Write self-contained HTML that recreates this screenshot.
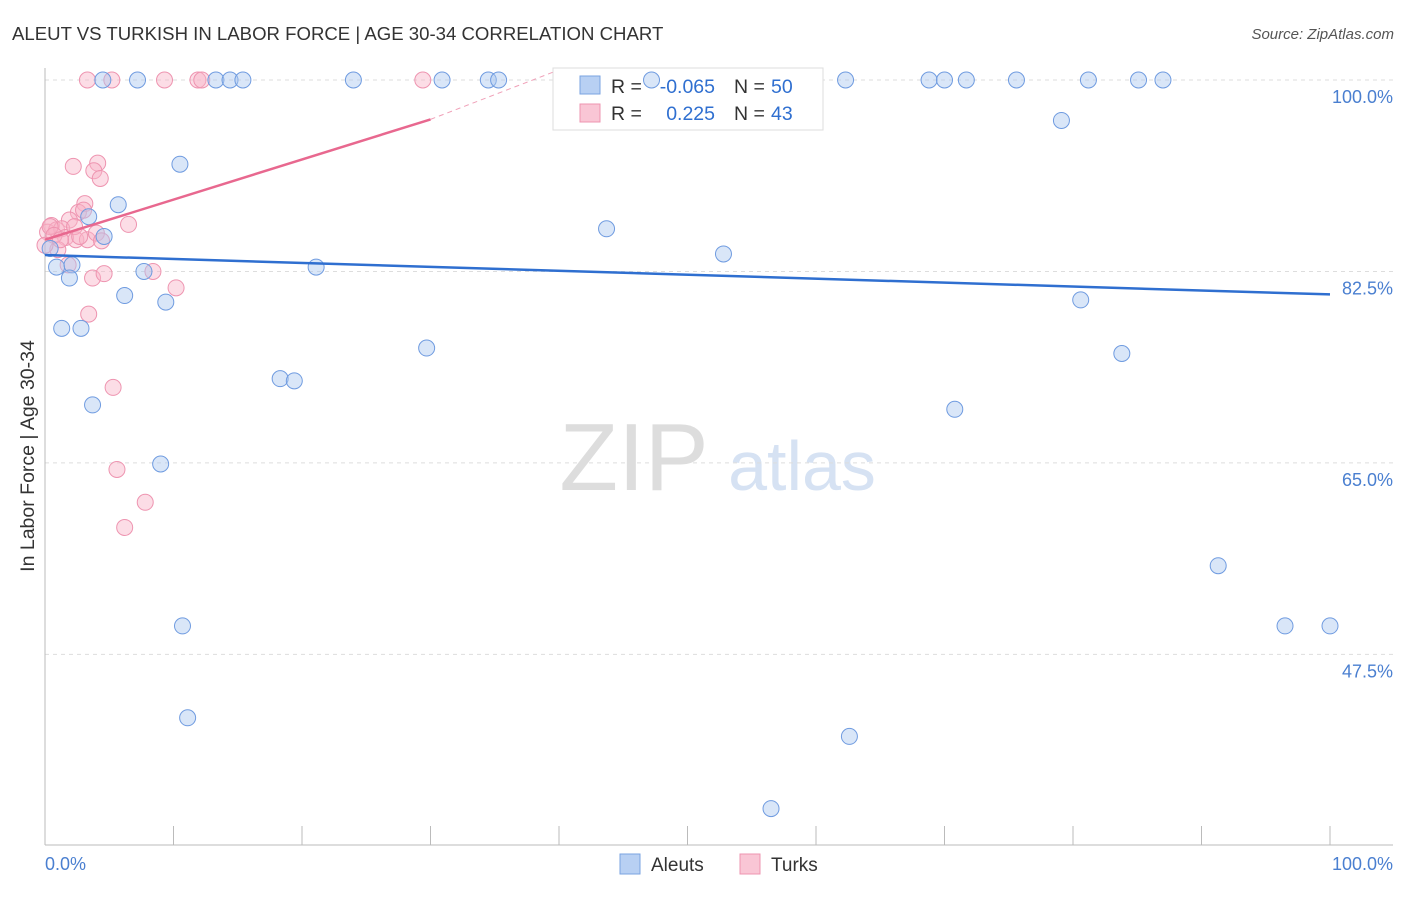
<!DOCTYPE html>
<html><head><meta charset="utf-8"><style>
body{margin:0;background:#fff;font-family:"Liberation Sans",sans-serif}
svg text{font-family:"Liberation Sans",sans-serif}
</style></head><body>
<svg width="1406" height="892" xmlns="http://www.w3.org/2000/svg">
<text x="12" y="40" font-size="18.6" fill="#333">ALEUT VS TURKISH IN LABOR FORCE | AGE 30-34 CORRELATION CHART</text>
<text x="1394" y="39" font-size="15" fill="#555" font-style="italic" text-anchor="end">Source: ZipAtlas.com</text>
<g>
<text x="634" y="490" font-size="96" fill="#ddd" font-family="Liberation Serif" text-anchor="middle">ZIP</text>
<text x="802" y="490" font-size="70" fill="#d6e2f3" text-anchor="middle">atlas</text></g>
<g id="grid"></g><g id="axes"></g>
<g>
<rect x="553" y="68" width="270" height="62" fill="#fff" stroke="#ddd"/>
<rect x="580" y="76" width="20" height="18" fill="#b8d0f3" stroke="#7aa3e0"/>
<text x="611" y="93" font-size="19.5" fill="#333">R =</text>
<text x="715" y="93" font-size="19.5" fill="#2f6fd0" text-anchor="end">-0.065</text>
<text x="734" y="93" font-size="19.5" fill="#333">N =</text>
<text x="771" y="93" font-size="19.5" fill="#2f6fd0">50</text>
<rect x="580" y="104" width="20" height="18" fill="#f9c6d5" stroke="#ee94b0"/>
<text x="611" y="120" font-size="19.5" fill="#333">R =</text>
<text x="715" y="120" font-size="19.5" fill="#2f6fd0" text-anchor="end">0.225</text>
<text x="734" y="120" font-size="19.5" fill="#333">N =</text>
<text x="771" y="120" font-size="19.5" fill="#2f6fd0">43</text></g>
<g id="marks"></g>
<text transform="translate(34,456) rotate(-90)" font-size="19.5" fill="#333" text-anchor="middle">In Labor Force | Age 30-34</text>
<text x="45" y="870" font-size="18" fill="#4a7fd0">0.0%</text>
<text x="1393" y="870" font-size="18" fill="#4a7fd0" text-anchor="end">100.0%</text>
<g>
<rect x="620" y="854" width="20" height="20" fill="#b8d0f3" stroke="#7aa3e0"/>
<text x="651" y="871" font-size="19" fill="#333">Aleuts</text>
<rect x="740" y="854" width="20" height="20" fill="#f9c6d5" stroke="#ee94b0"/>
<text x="771" y="871" font-size="19" fill="#333">Turks</text></g>
</svg>
<script>
const yTicks=[100,82.5,65,47.5];
const yTickLabels=["100.0%","82.5%","65.0%","47.5%"];
const xTicks=[0,10,20,30,40,50,60,70,80,90,100];
const aleutX=[4.5,7.2,13.3,14.4,15.4,24,30.9,34.5,35.3,47.2,62.3,68.8,70,71.7,75.6,81.2,85.1,87,79.1,10.5,5.7,3.4,4.6,43.7,52.8,0.9,2.1,1.9,7.7,21.1,6.2,9.4,80.6,1.3,2.8,29.7,83.8,18.3,19.4,3.7,70.8,9,91.3,10.7,96.5,100,11.1,62.6,56.5,0.4];
const aleutY=[100,100,100,100,100,100,100,100,100,100,100,100,100,100,100,100,100,100,96.3,92.3,88.6,87.5,85.7,86.4,84.1,82.9,83.1,81.9,82.5,82.9,80.3,79.7,79.9,77.3,77.3,75.5,75,72.7,72.5,70.3,69.9,64.9,55.6,50.1,50.1,50.1,41.7,40,33.4,84.6];
const turkX=[3.3,5.2,9.3,11.9,12.2,29.4,2.2,4.1,3.8,4.3,3.1,2.6,3,1.9,0.5,0.2,0.9,1.3,1.6,2.4,3.3,4,4.4,6.5,1,1.8,3.7,4.6,8.4,10.2,3.4,5.3,5.6,7.8,6.2,0.4,0.7,1.2,0,2.3,2.7];
const turkY=[100,100,100,100,100,100,92.1,92.4,91.7,91,88.7,87.9,88.1,87.2,86.7,86.1,86.3,86.4,85.6,85.4,85.4,86,85.3,86.8,84.5,83.1,81.9,82.3,82.5,81,78.6,71.9,64.4,61.4,59.1,86.6,85.8,85.4,84.9,86.6,85.7];
const blueLine=[[0,84],[100,80.4]];
const pinkLine=[[0,85.4],[30,96.4]];
const pinkDash=[[30,96.4],[39.5,100.7]];
const X=v=>45+v*12.85, Y=v=>80+(100-v)*10.94;
const NS="http://www.w3.org/2000/svg";
function mk(t,a,p){const e=document.createElementNS(NS,t);for(const k in a)e.setAttribute(k,a[k]);p.appendChild(e);return e;}
const g=document.getElementById('grid'),ax=document.getElementById('axes'),m=document.getElementById('marks');
yTicks.forEach((v,i)=>{
 const l=mk('line',{x1:45,x2:1393,y1:Y(v),y2:Y(v),stroke:'#ddd','stroke-dasharray':'4,4'},g);
 
 
 const t=mk('text',{x:1393,y:Y(v)+23,'font-size':18,fill:'#4a7fd0','text-anchor':'end'},g);
 t.textContent=yTickLabels[i];
 
 
});
const xl=mk('line',{x1:45,x2:1393,y1:845,y2:845,stroke:'#bbb'},ax);


const yl=mk('line',{x1:45,x2:45,y1:68,y2:845,stroke:'#bbb'},ax);


xTicks.forEach(v=>{const t=mk('line',{x1:X(v),x2:X(v),y1:826,y2:845,stroke:'#bbb'},ax);
 
 });
turkX.forEach((x,i)=>{const c=mk('circle',{cx:X(x),cy:Y(turkY[i]),r:8,fill:'rgba(248,180,200,0.45)',stroke:'#ee94b0','stroke-width':1},m);
 
 });
aleutX.forEach((x,i)=>{const c=mk('circle',{cx:X(x),cy:Y(aleutY[i]),r:8,fill:'rgba(170,200,240,0.45)',stroke:'#6f9be0','stroke-width':1},m);
 
 });
const bl=mk('line',{x1:X(blueLine[0][0]),y1:Y(blueLine[0][1]),x2:X(blueLine[1][0]),y2:Y(blueLine[1][1]),stroke:'#2f6fd0','stroke-width':2.5},m);


const pl=mk('line',{x1:X(pinkLine[0][0]),y1:Y(pinkLine[0][1]),x2:X(pinkLine[1][0]),y2:Y(pinkLine[1][1]),stroke:'#e8688f','stroke-width':2.5},m);


const pd=mk('line',{x1:X(pinkDash[0][0]),y1:Y(pinkDash[0][1]),x2:X(pinkDash[1][0]),y2:Y(pinkDash[1][1]),stroke:'#f0a0b8','stroke-width':1,'stroke-dasharray':'5,4'},m);


</script>
</body></html>
